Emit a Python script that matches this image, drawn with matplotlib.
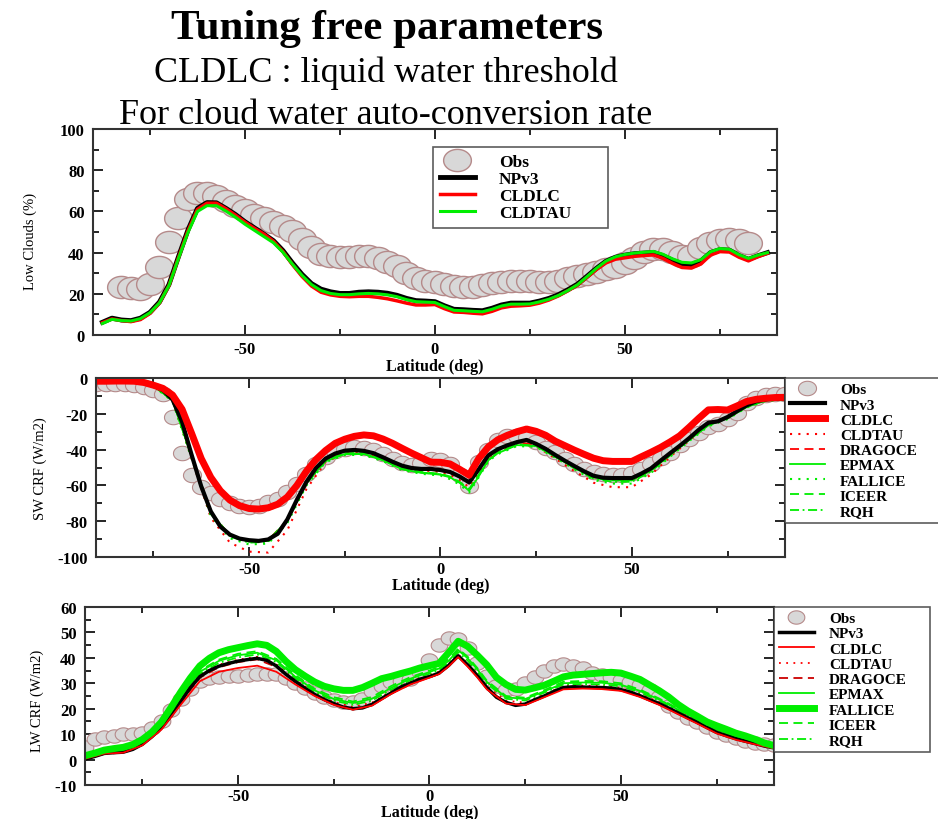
import numpy as np
import matplotlib
matplotlib.use("Agg")
import matplotlib.pyplot as plt
from matplotlib.ticker import MultipleLocator

plt.rcParams["font.family"] = ["Liberation Serif", "DejaVu Serif"]
plt.rcParams["axes.unicode_minus"] = False

# latitude grids
lat = np.arange(-90, 90.1, 2.5)
lat_c = [-90, -85, -80, -75, -70, -65, -60, -55, -50, -45,
         -40, -35, -30, -25, -20, -15, -10, -5, 0, 2.5,
         5, 7.5, 10, 12.5, 15, 20, 25, 30, 35, 40,
         45, 50, 55, 60, 65, 70, 75, 80, 85, 90]
lat_low = lat[1:-1]      # -87.5 .. 87.5
lat_low_obs = lat[3:-3]  # -82.5 .. 82.5

# ---- low clouds (%)
low_obs = [23.5, 23.0, 22.5, 25.0, 33.0, 45.0, 57.0, 66.0, 69.0, 69.0,
           67.5, 65.0, 62.5, 60.5, 58.2, 56.8, 55.0, 52.7, 50.3, 46.5,
           42.6, 39.5, 38.3, 37.8, 37.8, 38.2, 38.2, 37.3, 35.5, 33.3,
           30.3, 27.8, 26.3, 25.6, 24.9, 23.8, 23.2, 23.2, 24.4, 25.2,
           25.8, 26.3, 26.4, 26.2, 25.6, 25.6, 26.3, 27.5, 28.6, 29.8,
           30.8, 32.0, 33.2, 35.0, 37.5, 40.4, 42.0, 41.8, 40.1, 38.2,
           38.5, 42.2, 44.8, 45.9, 46.4, 46.0, 44.8]
low_npv3 = [6.2, 8.2, 7.3, 7.0, 8.2, 11.0, 16.0, 24.5, 38.0, 51.0,
            61.5, 64.3, 64.2, 61.5, 58.5, 55.0, 52.0, 49.0, 45.8, 41.0,
            35.0, 29.5, 25.0, 22.3, 21.0, 20.2, 20.2, 20.8, 21.0, 20.8,
            20.3, 19.3, 17.8, 16.7, 16.5, 16.2, 14.2, 12.5, 12.3, 12.0,
            11.8, 13.0, 14.6, 15.5, 15.5, 15.5, 16.5, 17.8, 19.6, 22.0,
            24.7, 28.5, 32.4, 35.8, 37.8, 38.8, 39.5, 39.8, 40.1, 38.5,
            36.3, 34.5, 34.2, 36.0, 40.0, 41.5, 41.2, 38.6, 36.8, 38.5, 40.0]
low_cldlc = [6.0, 7.8, 7.0, 6.5, 7.5, 10.5, 15.5, 24.0, 37.5, 50.5,
             61.0, 64.0, 64.0, 61.3, 58.2, 54.8, 51.8, 49.0, 45.5, 40.5,
             34.2, 28.5, 23.8, 20.8, 19.5, 18.8, 18.6, 18.8, 18.8, 18.3,
             17.6, 16.6, 15.5, 14.6, 14.6, 14.8, 12.8, 11.2, 11.0, 10.6,
             10.3, 11.5, 13.2, 14.0, 14.2, 14.5, 15.5, 17.0, 19.0, 21.5,
             24.2, 28.0, 31.8, 35.0, 36.8, 37.5, 38.2, 38.6, 38.9, 37.2,
             34.8, 32.8, 32.5, 34.5, 38.8, 40.5, 40.3, 37.8, 36.0, 38.0, 39.7]
low_cldtau = [5.6, 7.6, 7.0, 6.8, 8.0, 10.8, 15.6, 24.0, 37.2, 49.8,
              60.0, 62.8, 62.8, 60.2, 57.2, 53.8, 50.8, 47.8, 44.8, 40.2,
              34.4, 29.0, 24.5, 21.6, 20.2, 19.6, 19.6, 20.0, 20.2, 20.0,
              19.5, 18.6, 17.2, 16.2, 16.0, 15.8, 13.8, 12.0, 11.8, 11.5,
              11.3, 12.5, 14.1, 15.0, 15.0, 15.1, 16.1, 17.4, 19.2, 21.6,
              24.4, 28.3, 32.4, 35.9, 38.0, 39.1, 39.8, 40.2, 40.6, 39.2,
              37.0, 35.3, 35.0, 36.6, 40.4, 42.0, 41.6, 39.0, 37.2, 38.8, 40.0]

# ---- SW CRF (W/m2)
sw_obs = [-3.4, -3.3, -3.2, -3.5, -4.0, -4.8, -6.5, -9.0, -22.0, -42.0,
          -54.0, -61.0, -64.5, -67.5, -70.0, -71.6, -72.2, -71.3, -69.2, -67.4,
          -63.8, -59.0, -53.6, -48.2, -44.0, -41.0, -39.5, -38.8, -39.0, -40.3,
          -42.5, -45.2, -47.6, -48.8, -47.3, -45.5, -45.8, -48.2, -54.0, -60.5,
          -47.0, -40.0, -34.8, -32.6, -32.4, -33.0, -36.0, -39.0, -41.3, -45.0,
          -48.0, -50.6, -52.3, -53.7, -54.4, -54.3, -53.2, -51.0, -47.8, -44.6,
          -42.0, -37.7, -34.3, -31.0, -27.6, -25.5, -22.8, -19.3, -14.0, -11.3,
          -9.7, -9.2, -8.9]
sw_npv3 = [-1.8, -1.8, -1.7, -1.7, -1.9, -2.6, -4.3, -6.8, -12.0, -24.5,
           -43.0, -60.5, -74.5, -83.0, -87.5, -89.7, -90.6, -91.0, -90.2, -87.0,
           -79.0, -68.0, -58.0, -50.2, -45.0, -42.2, -40.6, -40.2, -40.7, -42.0,
           -44.3, -46.8, -49.0, -50.3, -50.8, -50.8, -51.4, -52.5, -55.0, -58.3,
           -51.0, -43.2, -39.8, -37.6, -35.8, -34.6, -36.8, -39.6, -43.0, -46.2,
           -49.2, -52.1, -54.6, -55.7, -55.9, -55.9, -55.9, -53.4, -50.5, -46.2,
           -42.0, -37.9, -33.6, -28.9, -25.0, -24.2, -21.8, -18.5, -15.3, -13.0,
           -12.0, -11.6, -11.4]
sw_cldlc = [-1.8, -1.8, -1.7, -1.7, -1.8, -2.5, -4.0, -5.8, -9.5, -17.5,
            -31.0, -45.0, -55.5, -63.0, -68.2, -71.3, -72.9, -73.2, -72.5, -70.5,
            -66.5, -60.0, -52.0, -45.5, -40.5, -36.5, -34.2, -32.6, -31.8, -32.3,
            -34.1, -36.5, -39.3, -42.0, -44.5, -47.0, -47.1, -48.0, -51.0, -54.3,
            -45.0, -38.5, -34.5, -32.0, -30.0, -28.5, -29.8, -32.0, -35.3, -37.8,
            -40.3, -42.6, -44.8, -46.2, -46.6, -46.6, -46.6, -44.0, -41.5, -38.8,
            -35.7, -32.3, -27.5, -22.5, -17.8, -17.6, -17.9, -15.6, -13.1, -11.9,
            -11.3, -10.9, -10.8]
sw_cldtau = [-1.8, -1.7, -2.0, -4.5, -12.5, -45.0, -78.0, -92.0, -97.0, -97.5,
             -85.0, -62.0, -47.0, -42.0, -41.5, -45.0, -50.0, -51.5, -52.5, -54.0,
             -57.0, -61.0, -53.0, -45.0, -41.0, -37.0, -38.0, -45.0, -52.0, -58.5,
             -61.0, -61.0, -54.0, -44.0, -35.0, -26.0, -22.5, -16.0, -12.5, -11.8]
sw_dragoce = [-1.8, -1.7, -1.9, -4.4, -12.2, -43.5, -75.0, -88.0, -91.0, -90.5,
              -79.5, -58.5, -45.5, -41.0, -41.0, -44.5, -49.5, -51.0, -51.8, -53.0,
              -55.5, -59.0, -51.5, -43.5, -40.0, -36.0, -37.2, -43.5, -50.0, -55.5,
              -57.0, -57.0, -51.5, -42.8, -34.2, -25.6, -22.3, -15.8, -12.3, -11.6]
sw_epmax = [-1.9, -1.8, -2.0, -4.5, -12.5, -44.0, -75.5, -88.0, -91.5, -91.0,
            -79.5, -58.5, -46.5, -42.5, -42.5, -46.0, -51.0, -53.0, -54.0, -55.5,
            -58.5, -63.0, -55.0, -46.0, -42.0, -37.5, -38.0, -44.0, -50.0, -55.5,
            -57.0, -57.0, -51.5, -43.0, -34.5, -26.5, -22.5, -16.2, -12.5, -12.0]
sw_fallice = [-2.0, -1.9, -2.1, -4.6, -13.0, -45.0, -77.0, -89.5, -93.0, -92.5,
              -81.0, -60.0, -47.0, -43.0, -43.0, -46.5, -51.5, -53.5, -54.5, -56.5,
              -59.5, -64.0, -55.5, -46.5, -42.5, -38.0, -38.5, -44.5, -51.0, -57.0,
              -59.0, -59.0, -53.0, -44.0, -35.2, -27.0, -23.0, -16.5, -12.8, -12.2]
sw_iceer = [-1.9, -1.8, -2.0, -4.4, -12.3, -43.5, -75.0, -88.0, -91.2, -90.8,
            -79.5, -58.5, -46.0, -42.0, -42.0, -45.5, -50.5, -52.5, -53.5, -55.0,
            -58.0, -62.0, -54.0, -45.5, -41.5, -37.0, -37.8, -43.8, -50.0, -55.8,
            -57.2, -57.2, -51.8, -43.0, -34.3, -26.0, -22.4, -16.0, -12.4, -11.9]
sw_rqh = [-1.9, -1.8, -2.0, -4.5, -12.4, -44.0, -76.0, -88.5, -92.0, -91.5,
          -80.0, -59.0, -46.2, -42.2, -42.3, -45.8, -50.8, -52.8, -53.8, -55.3,
          -58.3, -62.5, -54.5, -45.8, -41.8, -37.2, -37.9, -44.0, -50.5, -56.2,
          -58.0, -58.0, -52.2, -43.3, -34.6, -26.2, -22.6, -16.1, -12.5, -12.0]

# ---- LW CRF (W/m2)
lw_obs = [4.8, 8.0, 8.8, 9.4, 10.0, 10.0, 10.6, 12.4, 15.3, 19.5,
          23.8, 27.8, 30.8, 32.2, 32.4, 32.7, 33.0, 33.2, 33.7, 33.7,
          33.5, 32.0, 30.0, 28.0, 26.2, 24.4, 23.4, 22.8, 22.7, 23.8,
          26.8, 28.9, 30.4, 30.9, 31.5, 34.5, 39.0, 45.0, 47.8, 47.5,
          44.0, 38.0, 33.0, 29.1, 27.5, 27.8, 29.9, 32.6, 35.0, 36.8,
          37.5, 36.8, 36.0, 34.2, 33.2, 32.3, 31.3, 30.4, 29.5, 27.5,
          24.5, 21.0, 18.5, 16.5, 14.7, 12.6, 11.0, 9.8, 8.4, 7.2,
          6.6, 6.1, 5.9]
lw_npv3 = [0.2, 1.2, 2.4, 2.7, 2.9, 4.0, 6.0, 9.0, 12.5, 17.2,
           22.8, 28.2, 32.6, 35.0, 36.7, 37.8, 38.7, 39.3, 39.8, 39.0,
           36.8, 33.5, 30.7, 28.0, 25.6, 23.6, 22.0, 20.6, 20.0, 20.3,
           21.7, 24.0, 26.2, 28.5, 30.0, 31.6, 32.6, 34.0, 37.0, 40.8,
           37.2, 33.0, 28.3, 24.5, 22.5, 21.3, 21.8, 23.5, 25.0, 26.8,
           28.3, 28.6, 28.5, 28.4, 28.3, 28.1, 27.5, 26.5, 25.1, 23.5,
           22.0, 20.2, 18.3, 16.4, 14.6, 12.6, 10.7, 9.4, 8.2, 7.2,
           6.3, 5.3, 4.6]
lw_fallice = [1.5, 2.5, 3.7, 4.3, 4.8, 5.9, 7.9, 10.8, 14.8, 20.5,
              26.5, 32.0, 36.8, 39.8, 42.0, 43.2, 44.0, 44.8, 45.5, 44.9,
              42.5, 38.6, 35.3, 32.8, 30.5, 28.8, 27.8, 27.2, 27.2, 28.3,
              30.0, 31.8, 32.7, 33.8, 34.8, 36.0, 36.9, 37.8, 42.0, 46.5,
              44.5, 41.0, 37.2, 32.3, 29.5, 27.6, 27.3, 28.2, 29.2, 30.8,
              32.5, 33.2, 33.5, 33.8, 34.1, 34.3, 34.0, 32.8, 31.5, 29.3,
              27.1, 24.6, 21.6, 19.1, 17.0, 14.8, 13.3, 11.9, 10.4, 9.3,
              8.0, 6.5, 5.5]
lw_cldlc = [0.3, 2.3, 2.7, 5.6, 11.8, 21.5, 30.8, 34.5, 36.0, 36.9,
            34.5, 29.5, 25.0, 21.5, 19.6, 21.2, 25.8, 29.5, 32.2, 33.6,
            36.6, 40.3, 36.5, 32.3, 27.6, 22.0, 21.4, 24.5, 27.6, 27.9,
            27.7, 27.0, 24.6, 21.5, 17.8, 14.1, 10.3, 7.8, 6.0, 4.4]
lw_cldtau = [0.4, 2.6, 3.1, 6.3, 12.9, 23.3, 33.2, 37.3, 39.3, 40.4,
             37.4, 31.3, 26.2, 22.6, 20.7, 22.4, 26.8, 30.6, 33.2, 34.6,
             37.6, 41.3, 37.8, 33.6, 28.9, 23.1, 22.4, 25.6, 28.9, 29.1,
             28.9, 28.1, 25.7, 22.6, 18.9, 15.1, 11.2, 8.6, 6.6, 4.9]
lw_dragoce = [0.1, 2.2, 2.7, 5.8, 12.2, 22.4, 32.2, 36.3, 38.3, 39.4,
              36.4, 30.3, 25.2, 21.6, 19.7, 21.4, 25.9, 29.7, 32.3, 33.7,
              36.7, 40.5, 36.9, 32.7, 28.0, 22.2, 21.5, 24.7, 28.0, 28.2,
              28.0, 27.2, 24.8, 21.7, 18.0, 14.3, 10.5, 8.0, 6.2, 4.5]
lw_epmax = [0.8, 3.0, 3.6, 6.9, 13.8, 24.5, 34.5, 38.8, 41.0, 42.0,
            39.0, 32.5, 27.2, 23.8, 22.2, 23.9, 28.2, 31.8, 34.4, 35.8,
            38.8, 43.0, 39.8, 35.5, 30.5, 24.5, 23.8, 26.8, 30.0, 30.3,
            30.2, 29.4, 27.0, 23.6, 19.6, 15.8, 11.8, 9.0, 6.9, 5.0]
lw_iceer = [1.0, 3.2, 3.8, 7.1, 14.2, 25.0, 35.0, 39.3, 41.6, 42.6,
            39.6, 33.2, 27.8, 24.5, 22.8, 24.6, 28.9, 32.4, 35.0, 36.4,
            39.5, 43.6, 40.4, 36.0, 31.0, 25.0, 24.3, 27.3, 30.6, 30.9,
            30.8, 30.0, 27.5, 24.0, 20.0, 16.1, 12.2, 9.3, 7.1, 5.1]
lw_rqh = [0.6, 2.8, 3.4, 6.6, 13.4, 23.9, 33.8, 38.0, 40.2, 41.3,
          38.3, 31.9, 26.6, 23.2, 21.5, 23.2, 27.5, 31.2, 33.8, 35.2,
          38.2, 42.2, 38.9, 34.6, 29.8, 23.9, 23.2, 26.3, 29.5, 29.7,
          29.5, 28.8, 26.4, 23.1, 19.2, 15.5, 11.6, 8.8, 6.8, 4.9]

RED = "#ff0000"
GREEN = "#00ee00"
OBS_FACE = "#d8d8d8"
OBS_EDGE = "#b58a8a"

# slightly wide ellipse used as the observation marker
theta = np.linspace(0, 2 * np.pi, 60)
obs_marker = np.column_stack([1.25 * np.cos(theta), np.sin(theta)])


def style_axis(ax, ylim, ymajor, yminor, ylabel, ylab_x, ylab_y, xlab_y, pad):
    ax.set_xlim(-90, 90)
    ax.set_ylim(*ylim)
    ax.xaxis.set_major_locator(MultipleLocator(50))
    ax.xaxis.set_minor_locator(MultipleLocator(25))
    ax.yaxis.set_major_locator(MultipleLocator(ymajor))
    ax.yaxis.set_minor_locator(MultipleLocator(yminor))
    ax.tick_params(which="both", direction="in", top=True, right=True,
                   width=1.2, labelsize=12)
    ax.tick_params(axis="x", pad=pad)
    ax.tick_params(axis="y", pad=6)
    ax.tick_params(which="major", length=7)
    ax.tick_params(which="minor", length=4)
    for lab in ax.get_xticklabels() + ax.get_yticklabels():
        lab.set_fontweight("bold")
    for sp in ax.spines.values():
        sp.set_linewidth(1.5)
        sp.set_color("#333333")
    ax.set_xlabel("Latitude (deg)", fontsize=11.5, fontweight="bold")
    ax.xaxis.set_label_coords(0.5, xlab_y)
    ax.set_ylabel(ylabel, fontsize=10.5)
    ax.yaxis.set_label_coords(ylab_x, ylab_y)


legend_kw = dict(frameon=True, fancybox=False, edgecolor="#333333",
                 borderaxespad=0, mode="expand")

fig = plt.figure(figsize=(9.38, 8.2), dpi=100)

fig.text(0.413, 0.965, "Tuning free parameters", ha="center", va="center",
         fontsize=31, fontweight="bold")
fig.text(0.411, 0.911, "CLDLC : liquid water threshold", ha="center", va="center",
         fontsize=26)
fig.text(0.411, 0.859, "For cloud water auto-conversion rate", ha="center", va="center",
         fontsize=26)

# ---- panel 1: low clouds
ax1 = fig.add_axes([0.0991, 0.5902, 0.7292, 0.2512])
ax1.plot(lat_low_obs, low_obs, ls="none", marker=obs_marker, ms=20,
         mfc=OBS_FACE, mec=OBS_EDGE, mew=1.0, label="Obs")
ax1.plot(lat_low, low_npv3, color="black", lw=3.5, label="NPv3")
ax1.plot(lat_low, low_cldlc, color=RED, lw=2.5, label="CLDLC")
ax1.plot(lat_low, low_cldtau, color=GREEN, lw=2.2, label="CLDTAU")
style_axis(ax1, (0, 100), 20, 10, "Low Clouds (%)", -0.082, 0.46, -0.11, 4)
leg1 = ax1.legend(loc="upper left", bbox_to_anchor=(0.497, 0.0, 0.256, 0.913),
                  labelspacing=0.05, markerscale=1.0, handlelength=2.0,
                  handletextpad=1.4, borderpad=0.4,
                  prop={"weight": "bold", "size": 12.5}, **legend_kw)
leg1.get_frame().set_linewidth(1.2)

# ---- panel 2: SW CRF
ax2 = fig.add_axes([0.1023, 0.3195, 0.7345, 0.2183])
ax2.plot(lat, sw_obs, ls="none", marker=obs_marker, ms=13,
         mfc=OBS_FACE, mec=OBS_EDGE, mew=0.8, label="Obs")
ax2.plot(lat_c, sw_cldtau, color=RED, lw=1.5, ls=(0, (1, 3)), label="CLDTAU")
ax2.plot(lat_c, sw_dragoce, color=RED, lw=1.3, ls=(0, (5, 3)), label="DRAGOCE")
ax2.plot(lat_c, sw_epmax, color=GREEN, lw=1.3, label="EPMAX")
ax2.plot(lat_c, sw_fallice, color=GREEN, lw=1.5, ls=(0, (1, 3)), label="FALLICE")
ax2.plot(lat_c, sw_iceer, color=GREEN, lw=1.3, ls=(0, (5, 3)), label="ICEER")
ax2.plot(lat_c, sw_rqh, color=GREEN, lw=1.3, ls=(0, (5, 2, 1, 2)), label="RQH")
ax2.plot(lat, sw_npv3, color="black", lw=3.0, label="NPv3")
ax2.plot(lat, sw_cldlc, color=RED, lw=5.0, label="CLDLC")
style_axis(ax2, (-100, 0), 20, 10, "SW CRF (W/m2)", -0.071, 0.5, -0.11, 3)
order = ["Obs", "NPv3", "CLDLC", "CLDTAU", "DRAGOCE", "EPMAX", "FALLICE", "ICEER", "RQH"]
h2, l2 = ax2.get_legend_handles_labels()
h2 = [h2[l2.index(n)] for n in order]
leg2 = ax2.legend(h2, order, loc="upper left", bbox_to_anchor=(1.0, 0.0, 0.3, 1.0),
                  labelspacing=0.1, handlelength=2.3, handletextpad=1.0,
                  borderpad=0.3, prop={"weight": "bold", "size": 11}, **legend_kw)
leg2.get_frame().set_linewidth(1.2)

# ---- panel 3: LW CRF
ax3 = fig.add_axes([0.0906, 0.0415, 0.7345, 0.2171])
ax3.plot(lat, lw_obs, ls="none", marker=obs_marker, ms=12,
         mfc=OBS_FACE, mec=OBS_EDGE, mew=0.8, label="Obs")
ax3.plot(lat_c, lw_cldtau, color=RED, lw=1.3, ls=(0, (1, 3)), label="CLDTAU")
ax3.plot(lat_c, lw_dragoce, color="#cc0000", lw=1.3, ls=(0, (5, 3)), label="DRAGOCE")
ax3.plot(lat_c, lw_epmax, color=GREEN, lw=1.3, label="EPMAX")
ax3.plot(lat_c, lw_iceer, color=GREEN, lw=1.3, ls=(0, (5, 3)), label="ICEER")
ax3.plot(lat_c, lw_rqh, color=GREEN, lw=1.3, ls=(0, (5, 2, 1, 2)), label="RQH")
ax3.plot(lat, lw_npv3, color="black", lw=2.5, label="NPv3")
ax3.plot(lat_c, lw_cldlc, color=RED, lw=1.3, label="CLDLC")
ax3.plot(lat, lw_fallice, color=GREEN, lw=5.0, label="FALLICE")
style_axis(ax3, (-10, 60), 10, 5, "LW CRF (W/m2)", -0.06, 0.48, -0.105, 2)
h3, l3 = ax3.get_legend_handles_labels()
h3 = [h3[l3.index(n)] for n in order]
leg3 = ax3.legend(h3, order, loc="upper left", bbox_to_anchor=(1.0, 0.0, 0.2264, 1.0),
                  labelspacing=0.1, handlelength=2.3, handletextpad=1.0,
                  borderpad=0.3, prop={"weight": "bold", "size": 11}, **legend_kw)
leg3.get_frame().set_linewidth(1.2)

fig.savefig("out.png", dpi=100)
